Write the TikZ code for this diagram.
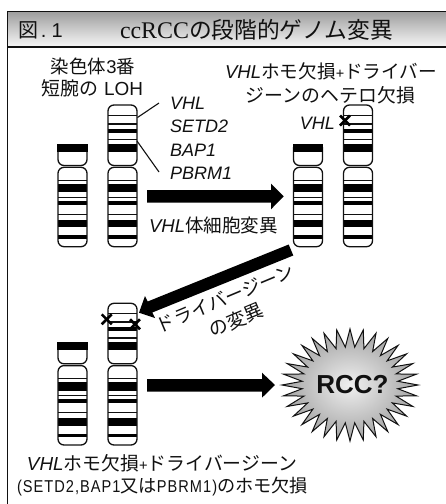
\documentclass[tikz,border=0pt]{standalone}
\usepackage{fontspec}
\usepackage{graphicx}
\setmainfont{Liberation Sans}
\newfontfamily\cjk{Noto Sans CJK JP}
\newfontfamily\timesface{Liberation Serif}
\newfontfamily\halfwidth[FakeStretch=0.85,LetterSpace=6]{Liberation Sans}
\newcommand{\jp}[1]{{\cjk #1}}
\newcommand{\fsz}[1]{\fontsize{#1}{#1}\selectfont}
% sets a line of text to an exact width
\newcommand{\fitw}[2]{\resizebox{#1pt}{!}{#2}}
\definecolor{inkc}{HTML}{111111}
\tikzset{
  x=1pt,y=-1pt,
  txt/.style={inner sep=0pt,outer sep=0pt,text=inkc},
  lbl/.style={txt,font=\fsz{18}},
  gene/.style={txt,anchor=west,font=\fsz{18}\itshape},
  armline/.style={draw=inkc,line width=1.3pt,rounded corners=6pt},
  leader/.style={draw=inkc,line width=1.1pt},
  blockarrow/.style={fill=black},
  cross/.style={draw=black,line width=2.6pt},
  % long arm, common to every chromosome
  pics/qarm/.style={code={
    \fill[inkc] (0,179.5) rectangle (29,181);
    \fill[black] (0,184) rectangle (29,192.3);
    \fill[inkc] (0,196.5) rectangle (29,198);
    \fill[black] (0,200.7) rectangle (29,205);
    \fill[inkc] (0,213.5) rectangle (29,215);
    \fill[black] (0,220) rectangle (29,227.3);
    \fill[black] (0,235.3) rectangle (29,239);
    \draw[armline] (0,167.3) rectangle (29,246.7);
  }},
  % short arm of the full-length homologue
  pics/pfull/.style={code={
    \fill[inkc] (0,114.5) rectangle (29,116);
    \fill[inkc] (0,123) rectangle (29,124.5);
    \fill[black] (0,129) rectangle (29,132.7);
    \fill[inkc] (0,139) rectangle (29,140.3);
    \fill[black] (0,144) rectangle (29,151.7);
    \draw[armline] (0,105) rectangle (29,165.5);
  }},
  % short arm of the truncated homologue
  pics/pcut/.style={code={
    \draw[armline] (0,147) -- (0,165.5) -- (29,165.5) -- (29,147);
    \fill[black] (-.65,144) rectangle (29.65,151.9);
  }},
}
\begin{document}
\begin{tikzpicture}
\useasboundingbox (0,0) rectangle (446,504);
\fill[white] (0,0) rectangle (446,504);

% title band and frame
\shade[top color=black!38,bottom color=black!3] (7.5,11.5) rectangle (447,47);
\draw[inkc,line width=1.3pt] (447,11.5) -- (7.5,11.5) -- (7.5,505);
\draw[inkc,line width=1.3pt] (7.5,47) -- (447,47);
\node[txt,anchor=west,font=\fsz{20}] (figno) at (18,30) {\jp{図}\hspace{3pt}.\hspace{5pt}1};
\node[txt,anchor=west] (title) at (120,30) {\fitw{69}{\fsz{23}\timesface ccRCC}\fitw{204}{\fsz{22}\cjk の段階的ゲノム変異}};

% chromosome pairs
\foreach \dx/\dy in {0/0,235.5/0,0/198.3}{
  \begin{scope}[shift={(58+\dx,\dy)}]
    \pic {pcut}; \pic {qarm};
  \end{scope}
  \begin{scope}[shift={(108+\dx,\dy)}]
    \pic {pfull}; \pic {qarm};
  \end{scope}
}

% upper left labels
\node[lbl] (loha) at (93,66) {\fitw{84}{\jp{染色体}3\jp{番}}};
\node[lbl] (lohb) at (92.5,88) {\fitw{101}{\jp{短腕の} LOH}};
\node[gene] (gvhl) at (170,103) {VHL};
\node[gene] (gsetd) at (170,126) {SETD2};
\node[gene] (gbap) at (170,150) {BAP1};
\node[gene] (gpbrm) at (170,173) {PBRM1};
\coordinate (ka) at (137.5,117.5);
\coordinate (kb) at (159,103);
\coordinate (kc) at (137,141);
\coordinate (kd) at (159,172);
\draw[leader] (ka) -- (kb);
\draw[leader] (kc) -- (kd);

% upper right labels
\node[lbl,anchor=west] (hetA) at (225,71) {\fitw{212}{\itshape VHL\upshape\cjk ホモ欠損\normalfont\fsz{14}+\fsz{18}\cjk ドライバー}};
\node[lbl] (hetB) at (330.5,95) {\fitw{169}{\jp{ジーンのヘテロ欠損}}};
\node[gene,anchor=east] (vhlr) at (335,123) {VHL};
\coordinate (xa) at (345,120.5);
\draw[cross] ([shift={(-5,-5)}]xa) -- ([shift={(5,5)}]xa);
\draw[cross] ([shift={(-5,5)}]xa) -- ([shift={(5,-5)}]xa);

% first step
\fill[blockarrow] (147,190) -- (271,190) -- (271,183.5) -- (283.7,196.3) -- (271,209.3) -- (271,202.7) -- (147,202.7) -- cycle;
\node[lbl,anchor=west] (somatic) at (149,225) {\fitw{129}{\itshape VHL\upshape\cjk 体細胞変異}};

% second step
\fill[blockarrow] (288.7,244.5) -- (293.3,255.5) -- (152.3,312.5) -- (155,318) -- (139,312.7) -- (145,296) -- (147.7,301.5) -- cycle;
\node[lbl,rotate=22.7] (drva) at (225,298) {\fitw{147}{\jp{ドライバージーン}}};
\node[lbl,rotate=22.7] (drvb) at (236,320) {\fitw{57}{\jp{の変異}}};
\coordinate (xb) at (106.7,319.3);
\coordinate (xc) at (135,324.3);
\foreach \c in {xb,xc}{
  \draw[cross] ([shift={(-5,-5)}]\c) -- ([shift={(5,5)}]\c);
  \draw[cross] ([shift={(-5,5)}]\c) -- ([shift={(5,-5)}]\c);
}

% third step
\fill[blockarrow] (147,379) -- (262,379) -- (262,372.7) -- (275,385) -- (262,397.7) -- (262,391.7) -- (147,391.7) -- cycle;

% tumour burst
\path[draw=inkc,line width=1pt,line join=miter,inner color=black!6,outer color=black!36]
  plot[samples=65,domain=0:64,variable=\k]
  ({350+(mod(\k,2)==0?68:48)*cos(\k*5.625)},{385+(mod(\k,2)==0?56:38)*sin(\k*5.625)}) -- cycle;
\node[txt,font=\fsz{26}\bfseries] (rcc) at (352.5,385) {RCC?};

% lower labels
\node[lbl,anchor=west] (homA) at (27,463) {\fitw{270}{\itshape VHL\upshape\cjk ホモ欠損\normalfont\fsz{14}+\fsz{18}\cjk ドライバージーン}};
\node[lbl,anchor=west] (homB) at (17,487) {\fitw{291}{{\halfwidth\fsz{17}(SETD2,BAP1}\jp{又は}{\halfwidth\fsz{17}PBRM1)}\jp{のホモ欠損}}};
\end{tikzpicture}
\end{document}
